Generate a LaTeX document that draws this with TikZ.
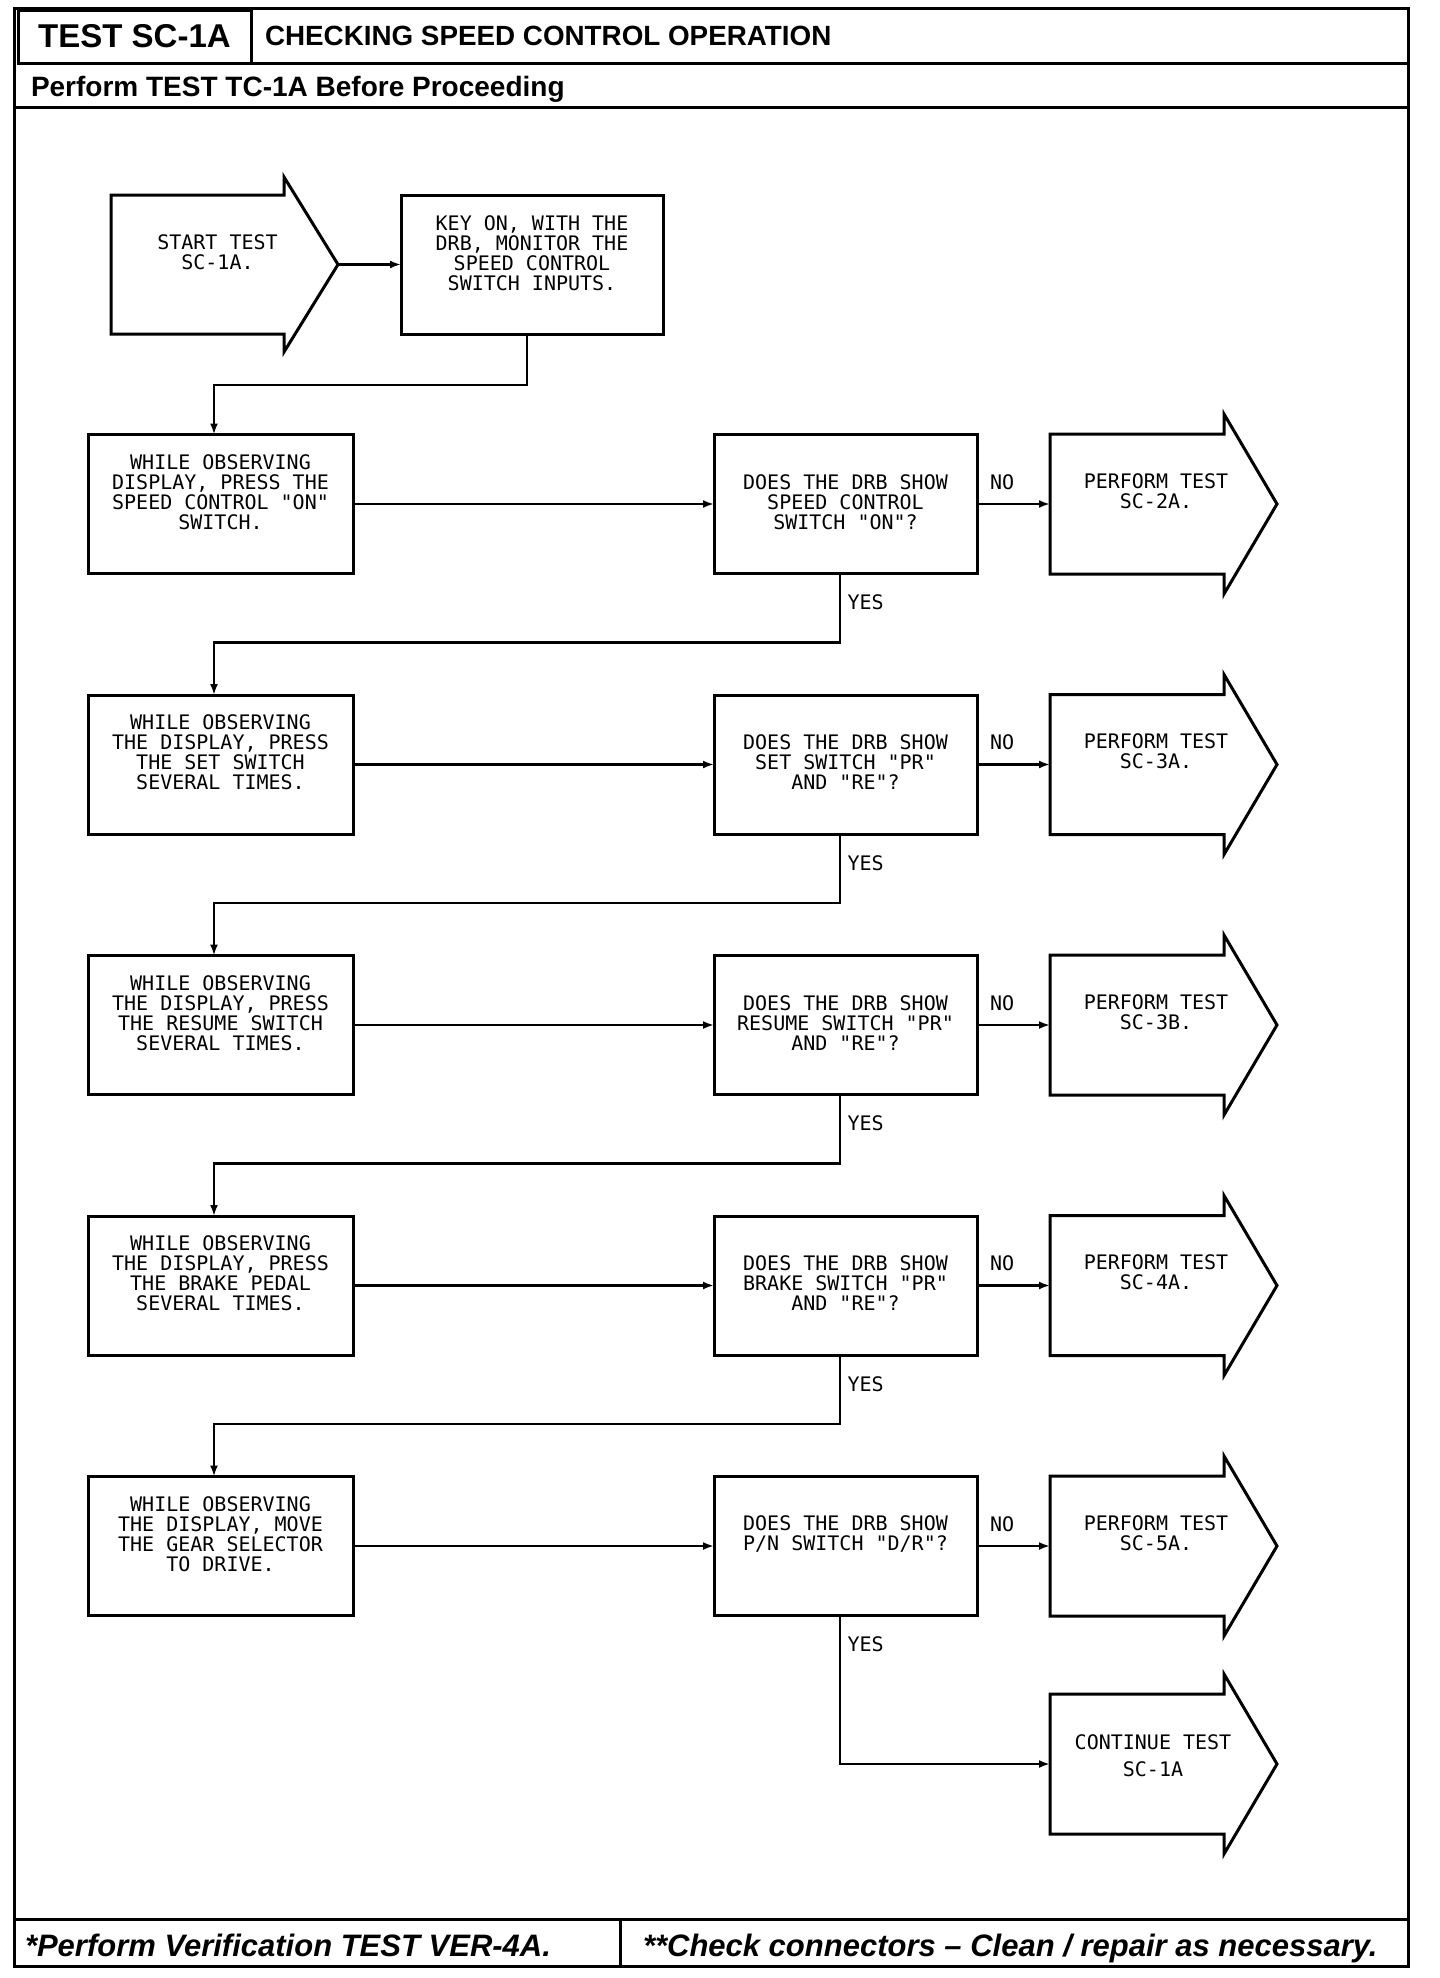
\documentclass[tikz,border=0pt]{standalone}
\usepackage{fontspec}
\setmainfont{Liberation Sans}
\newfontfamily\plotfont{DejaVu Sans Mono}
\usetikzlibrary{arrows.meta,calc}

\begin{document}
\begin{tikzpicture}[x=1pt,y=-1pt,
  every node/.style={inner sep=0pt, outer sep=0pt},
  frame/.style={line width=3pt},
  stepbox/.style={draw, line width=3pt, minimum width=265pt, minimum height=139pt},
  shaft/.style={minimum width=174pt, minimum height=140pt},
  txt/.style={font=\plotfont\fontsize{20}{20}\selectfont, align=center},
  lab/.style={font=\plotfont\fontsize{20}{20}\selectfont},
  conn/.style={line width=2.8pt, -{Latex[length=11pt,width=8pt]}},
  hdr/.style={font=\bfseries\fontsize{#1}{#1}\selectfont},
  ftr/.style={font=\bfseries\itshape\fontsize{31}{31}\selectfont},
]
\newcommand\flowarrow[1]{\draw[frame, line join=miter] (#1.north west) -- (#1.north east) -- ([yshift=20pt]#1.north east) -- ([xshift=53pt]#1.east) -- ([yshift=-20pt]#1.south east) -- (#1.south east) -- (#1.south west) -- cycle;}
\newcommand\flowrow[6]{%
 \node[stepbox] (b#1) at (220.5,#2) {};
 \node[txt] (bt#1) at ([yshift=12pt]b#1.center) {#3};
 \node[stepbox, minimum width=263pt] (d#1) at (845.5,#2) {};
 \node[txt] (dt#1) at ([yshift=#6pt]d#1.center) {#4};
 \node[shaft] (p#1) at (1137,#2) {};
 \flowarrow{p#1}
 \node[txt] (pt#1) at ([xshift=19pt,yshift=13pt]p#1.center) {#5};
 \draw[conn] (b#1.east) -- (d#1.west);
 \draw[conn] (d#1.east) -- (p#1.west);
 \node[lab, anchor=west] (no#1) at ([xshift=13pt,yshift=22pt]d#1.east) {NO};
 \node[lab, anchor=west] (yes#1) at ([xshift=2pt,yshift=-29pt]d#1.south) {YES};
}
\useasboundingbox (0,0) rectangle (1440,1978);
\fill[white] (0,0) rectangle (1440,1978);

% frame and header
\draw[frame] (14,8) rectangle (1408,1966);
\node[draw, frame, minimum width=233pt, minimum height=53pt, hdr=33] (hd) at (134.5,36.5) {TEST SC-1A};
\node[anchor=base west, hdr=27.8] (ti) at (265,45) {CHECKING SPEED CONTROL OPERATION};
\draw[frame] (hd.south east) -- (1408,63);
\node[anchor=base west, hdr=28] (pre) at (31,96) {Perform TEST TC-1A Before Proceeding};
\draw[frame] (14,107) -- (1408,107);
\draw[frame] (14,1919) -- (1408,1919);
\draw[frame] (620,1919) -- (620,1966);
\node[anchor=base west, ftr] (f1) at (25,1956) {*Perform Verification TEST VER-4A.};
\node[anchor=base west, ftr] (f2) at (643,1956) {**Check connectors – Clean / repair as necessary.};

% start
\node[shaft, minimum width=173pt, minimum height=139pt] (s) at (197.5,264.5) {};
\draw[frame, line join=miter] (s.north west) -- (s.north east) -- ([yshift=18pt]s.north east) -- ([xshift=54pt]s.east) -- ([yshift=-18pt]s.south east) -- (s.south east) -- (s.south west) -- cycle;
\node[txt] (stt) at ([xshift=20pt,yshift=12pt]s.center) {START TEST\\SC-1A.};
\node[stepbox, minimum width=262pt] (k) at (532,264.5) {};
\node[txt] (kt) at ([yshift=11pt]k.center) {KEY ON, WITH THE\\DRB, MONITOR THE\\SPEED CONTROL\\SWITCH INPUTS.};
\draw[conn] ([xshift=54pt]s.east) -- (k.west);

\flowrow{1}{504}{WHILE OBSERVING\\DISPLAY, PRESS THE\\SPEED CONTROL "ON"\\SWITCH.}{DOES THE DRB SHOW\\SPEED CONTROL\\SWITCH "ON"?}{PERFORM TEST\\SC-2A.}{2}
\flowrow{2}{764.5}{WHILE OBSERVING\\THE DISPLAY, PRESS\\THE SET SWITCH\\SEVERAL TIMES.}{DOES THE DRB SHOW\\SET SWITCH "PR"\\AND "RE"?}{PERFORM TEST\\SC-3A.}{2}
\flowrow{3}{1025}{WHILE OBSERVING\\THE DISPLAY, PRESS\\THE RESUME SWITCH\\SEVERAL TIMES.}{DOES THE DRB SHOW\\RESUME SWITCH "PR"\\AND "RE"?}{PERFORM TEST\\SC-3B.}{2}
\flowrow{4}{1285.5}{WHILE OBSERVING\\THE DISPLAY, PRESS\\THE BRAKE PEDAL\\SEVERAL TIMES.}{DOES THE DRB SHOW\\BRAKE SWITCH "PR"\\AND "RE"?}{PERFORM TEST\\SC-4A.}{2}
\flowrow{5}{1546}{WHILE OBSERVING\\THE DISPLAY, MOVE\\THE GEAR SELECTOR\\TO DRIVE.}{DOES THE DRB SHOW\\P/N SWITCH "D/R"?}{PERFORM TEST\\SC-5A.}{12}

\node[shaft] (c) at (1137,1764) {};
\flowarrow{c}
\node[txt, font=\plotfont\fontsize{20}{27}\selectfont] (ct) at ([xshift=16pt,yshift=8pt]c.center) {CONTINUE TEST\\SC-1A};

% connectors between rows
\draw[conn] ([xshift=-5pt]k.south) -- ++(0,51) -| ([xshift=-6.5pt]b1.north);
\draw[conn] ([xshift=-5.5pt]d1.south) -- ++(0,69) -| ([xshift=-6.5pt]b2.north);
\draw[conn] ([xshift=-5.5pt]d2.south) -- ++(0,69) -| ([xshift=-6.5pt]b3.north);
\draw[conn] ([xshift=-5.5pt]d3.south) -- ++(0,69) -| ([xshift=-6.5pt]b4.north);
\draw[conn] ([xshift=-5.5pt]d4.south) -- ++(0,69) -| ([xshift=-6.5pt]b5.north);
\draw[conn] ([xshift=-5.5pt]d5.south) |- (c.west);
\end{tikzpicture}
\end{document}
